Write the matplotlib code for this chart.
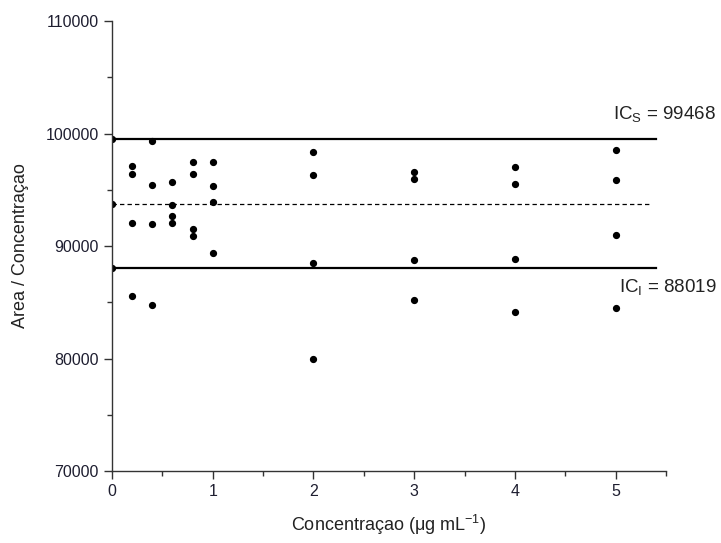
import matplotlib
matplotlib.use('Agg')
import matplotlib.pyplot as plt

plt.rcParams['font.family'] = ['Liberation Sans', 'DejaVu Sans']
plt.rcParams['mathtext.fontset'] = 'custom'
plt.rcParams['mathtext.rm'] = 'Liberation Sans'
plt.rcParams['mathtext.it'] = 'Liberation Sans'

# concentration groups and the measured area/concentration ratios
conc = [0.2, 0.4, 0.6, 0.8, 1.0, 2, 3, 4, 5]
ratios = [
    [97080, 96370, 92035, 85575],
    [99300, 95400, 91950, 84780],
    [95660, 93630, 92650, 92035],
    [97430, 96370, 91500, 90880],
    [97430, 95310, 93890, 89380],
    [98400, 96280, 88500, 80000],
    [96550, 95930, 88760, 85220],
    [96990, 95490, 88850, 84160],
    [98500, 95840, 90970, 84510],
]

ic_upper = 99468
ic_lower = 88019
mean_val = 93743
line_x = [0, 5.4]
mean_x = [0, 5.35]

fig = plt.figure(figsize=(7.21, 5.43), dpi=100)
ax = fig.add_axes([0.1553, 0.1326, 0.9237 - 0.1553, 0.9613 - 0.1326])

for c, vals in zip(conc, ratios):
    ax.plot([c] * len(vals), vals, 'o', color='black', markersize=4.2, linestyle='none')

ax.plot(line_x, [ic_upper] * 2, color='black', lw=1.6, marker='o', markersize=4.2, markevery=[0])
ax.plot(line_x, [ic_lower] * 2, color='black', lw=1.6, marker='o', markersize=4.2, markevery=[0])
ax.plot(mean_x, [mean_val] * 2, color='black', lw=0.9, ls=(0, (3.5, 2.5)), marker='o', markersize=4.2, markevery=[0])

ax.text(6.0, ic_upper + 1800, r'IC$_\mathrm{S}$ = 99468', fontsize=13.5, color='#222222',
        ha='right', va='baseline', clip_on=False)
ax.text(6.0, ic_lower - 2100, r'IC$_\mathrm{I}$ = 88019', fontsize=13.5, color='#222222',
        ha='right', va='baseline', clip_on=False)

ax.set_xlim(0, 5.5)
ax.set_ylim(70000, 110000)
ax.set_xticks([0, 1, 2, 3, 4, 5])
ax.set_xticks([0.5, 1.5, 2.5, 3.5, 4.5, 5.5], minor=True)
ax.set_yticks([70000, 80000, 90000, 100000, 110000])
ax.set_yticks([75000, 85000, 95000, 105000], minor=True)

for s in ['top', 'right']:
    ax.spines[s].set_visible(False)
for s in ['left', 'bottom']:
    ax.spines[s].set_linewidth(1.0)
    ax.spines[s].set_color('#333333')

ax.tick_params(which='major', direction='out', length=6, width=1, labelsize=11.5,
               labelcolor='#1e1e30', color='#333333')
ax.tick_params(which='minor', direction='out', length=3.5, width=1, color='#333333')

ax.set_xlabel(r'Concentraçao ($\mathrm{\mu}$g mL$^{\mathrm{-1}}$)', fontsize=13, color='#222222', labelpad=10)
ax.set_ylabel('Area / Concentraçao', fontsize=13, color='#222222', labelpad=12)

fig.savefig('out.png', dpi=100)
